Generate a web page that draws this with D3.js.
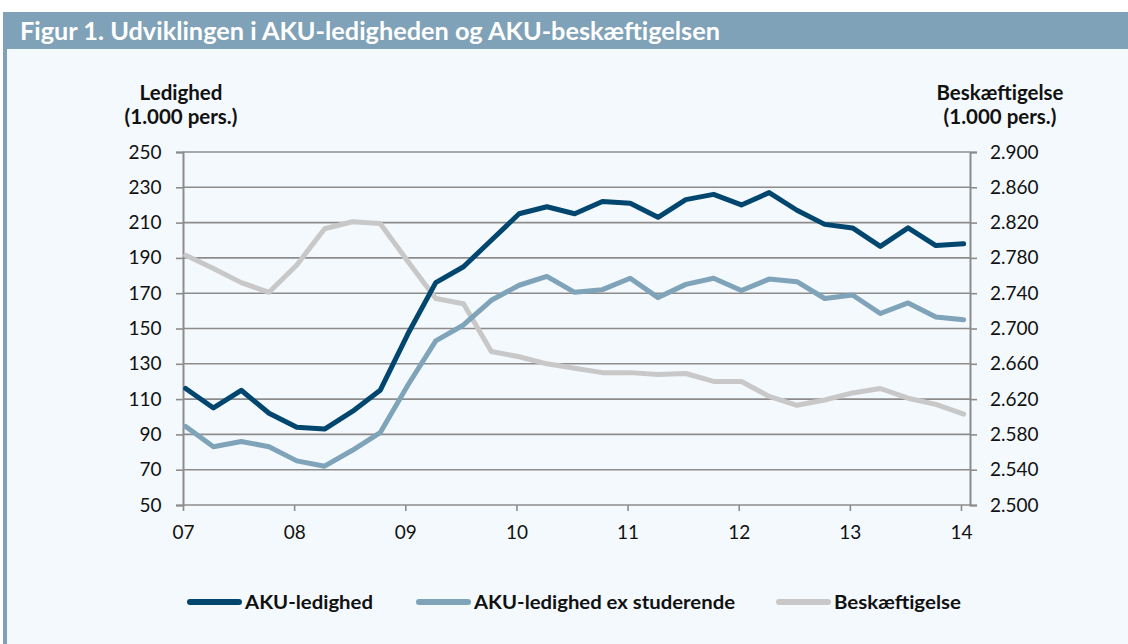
<!DOCTYPE html>
<html>
<head>
<meta charset="utf-8">
<script src="https://cdn.jsdelivr.net/npm/d3@7"></script>
<style>
  body { margin: 0; background: #fff; }
  svg { display: block; }
  text { font-family: Lato, "Open Sans", sans-serif; fill: #111; }
</style>
</head>
<body>
<div id="chart"></div>
<script>
var quarters = ["2007K1", "2007K2", "2007K3", "2007K4", "2008K1", "2008K2", "2008K3", "2008K4",
    "2009K1", "2009K2", "2009K3", "2009K4", "2010K1", "2010K2", "2010K3", "2010K4",
    "2011K1", "2011K2", "2011K3", "2011K4", "2012K1", "2012K2", "2012K3", "2012K4",
    "2013K1", "2013K2", "2013K3", "2013K4", "2014K1"];

// AKU-ledighed (1.000 pers.)
var akuLedighed = [116, 105, 115, 102, 94, 93, 103, 115,
    147, 176, 185, 200, 215, 219, 215, 222,
    221, 213, 223, 226, 220, 227, 217, 209,
    207, 196.5, 207, 197, 198];

// AKU-ledighed ex studerende (1.000 pers.)
var akuExStud = [94.5, 83, 86, 83, 75, 72, 81, 91,
    118, 143, 152, 166, 174.5, 179.5, 170.5, 172,
    178.5, 167.5, 175, 178.5, 171.5, 178, 176.5, 167,
    169, 158.5, 164.5, 156.5, 155];

// Beskæftigelse (1.000 pers.), right axis
var beskaeftigelse = [2783, 2768, 2752, 2741, 2772, 2813, 2821, 2819,
    2776, 2734, 2728, 2674, 2668, 2660, 2655, 2650,
    2650, 2648, 2649, 2640, 2640, 2623, 2613, 2619,
    2627, 2632, 2621, 2614, 2603];

var yearTicks = [2007, 2008, 2009, 2010, 2011, 2012, 2013, 2014];
var leftTicks = [50, 70, 90, 110, 130, 150, 170, 190, 210, 230, 250];
var rightTicks = [2500, 2540, 2580, 2620, 2660, 2700, 2740, 2780, 2820, 2860, 2900];

var W = 1128, H = 644;
var plot = { left: 183, right: 970, top: 152, bottom: 505 };

var svg = d3.select("#chart").append("svg")
    .attr("width", W)
    .attr("height", H);

// panel + title bar
svg.append("rect").attr("x", 3).attr("y", 12).attr("width", W - 3).attr("height", H - 12).attr("fill", "#7fa2b8");
svg.append("rect").attr("x", 7).attr("y", 49).attr("width", W - 7).attr("height", H - 49).attr("fill", "#f4f9fd");
svg.append("text")
    .attr("x", 20).attr("y", 40)
    .attr("textLength", 700)
    .attr("lengthAdjust", "spacingAndGlyphs")
    .style("fill", "#fff")
    .style("font-size", "25px")
    .style("font-weight", "bold")
    .text("Figur 1. Udviklingen i AKU-ledigheden og AKU-beskæftigelsen");

// quarter -> fractional year
function qTime(q) {
    return +q.slice(0, 4) + (+q.slice(5) - 1) * 0.25 + 0.024;
}

var x = d3.scaleLinear().domain([2007, 2014.081]).range([plot.left, plot.right]);
var yL = d3.scaleLinear().domain([50, 250]).range([plot.bottom, plot.top]);
var yR = d3.scaleLinear().domain([2500, 2900]).range([plot.bottom, plot.top]);

var gridColor = "#8c8c8c";

// gridlines
svg.append("g").selectAll("line")
    .data(leftTicks)
    .enter().append("line")
    .attr("x1", plot.left).attr("x2", plot.right)
    .attr("y1", function (d) { return yL(d); })
    .attr("y2", function (d) { return yL(d); })
    .attr("stroke", gridColor)
    .attr("stroke-width", 1.6);

// left axis
var leftAxis = svg.append("g")
    .attr("transform", "translate(" + plot.left + ",0)")
    .call(d3.axisLeft(yL).tickValues(leftTicks).tickSize(7).tickPadding(14.5));

// right axis
var rightAxis = svg.append("g")
    .attr("transform", "translate(" + plot.right + ",0)")
    .call(d3.axisRight(yR).tickValues(rightTicks).tickSize(7).tickPadding(13)
        .tickFormat(function (d) { return d3.format(",")(d).replace(",", "."); }));

// bottom axis
var bottomAxis = svg.append("g")
    .attr("transform", "translate(0," + plot.bottom + ")")
    .call(d3.axisBottom(x).tickValues(yearTicks).tickSize(6).tickPadding(15)
        .tickFormat(function (d) { return String(d).slice(2); }));

[leftAxis, rightAxis, bottomAxis].forEach(function (a) {
    a.select(".domain").attr("stroke", gridColor).attr("stroke-width", 2);
    a.selectAll(".tick line").attr("stroke", gridColor).attr("stroke-width", 1.6);
    a.selectAll(".tick text")
        .style("font-family", "Lato, sans-serif")
        .style("font-size", "19px")
        .style("fill", "#111");
});
bottomAxis.select(".domain").remove();

// axis titles
function axisTitle(cx, lines) {
    lines.forEach(function (t, i) {
        svg.append("text")
            .attr("x", cx).attr("y", 100 + i * 24)
            .attr("text-anchor", "middle")
            .style("font-size", "20.5px")
            .style("font-weight", "bold")
            .text(t);
    });
}
axisTitle(181, ["Ledighed", "(1.000 pers.)"]);
axisTitle(1000, ["Beskæftigelse", "(1.000 pers.)"]);

// series
var series = [
    { name: "Beskæftigelse", values: beskaeftigelse, scale: yR, color: "#c8c8c8" },
    { name: "AKU-ledighed ex studerende", values: akuExStud, scale: yL, color: "#7fa3b8" },
    { name: "AKU-ledighed", values: akuLedighed, scale: yL, color: "#00466f" }
];

series.forEach(function (s) {
    var line = d3.line()
        .x(function (d, i) { return x(qTime(quarters[i])); })
        .y(function (d) { return s.scale(d); });
    svg.append("path")
        .datum(s.values)
        .attr("fill", "none")
        .attr("stroke", s.color)
        .attr("stroke-width", 5)
        .attr("stroke-linejoin", "round")
        .attr("stroke-linecap", "round")
        .attr("d", line);
});

// legend
var legendItems = [
    { name: "AKU-ledighed", color: "#00466f", x: 187, w: 128 },
    { name: "AKU-ledighed ex studerende", color: "#7fa3b8", x: 416, w: 261 },
    { name: "Beskæftigelse", color: "#c8c8c8", x: 776, w: 127 }
];
var legend = svg.append("g");
legendItems.forEach(function (d) {
    legend.append("line")
        .attr("x1", d.x + 3).attr("x2", d.x + 52)
        .attr("y1", 602).attr("y2", 602)
        .attr("stroke", d.color)
        .attr("stroke-width", 6)
        .attr("stroke-linecap", "round");
    legend.append("text")
        .attr("x", d.x + 58).attr("y", 609)
        .attr("textLength", d.w)
        .attr("lengthAdjust", "spacingAndGlyphs")
        .style("font-size", "19.5px")
        .style("font-weight", "bold")
        .text(d.name);
});
</script>
</body>
</html>
